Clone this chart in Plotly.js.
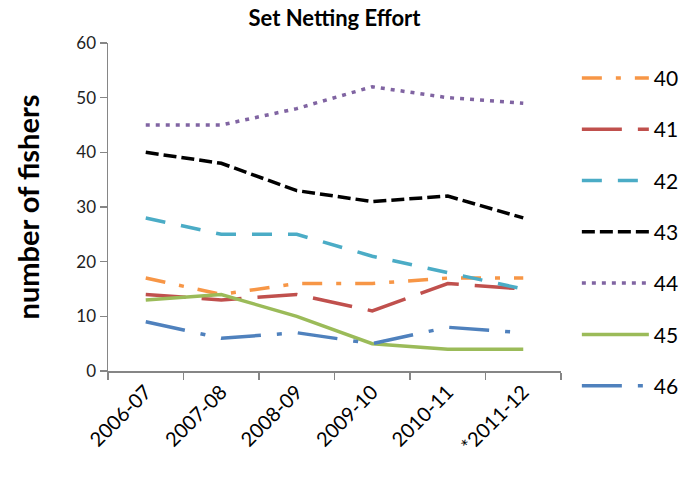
<!DOCTYPE html>
<html>
<head>
<meta charset="utf-8">
<script src="https://cdn.plot.ly/plotly-3.0.1.min.js"></script>
<style>html,body{margin:0;padding:0;background:#fff;}#chart{width:684px;height:479px;}</style>
</head>
<body>
<div id="chart"></div>
<script>
const seasons = ["2006-07", "2007-08", "2008-09", "2009-10", "2010-11", "*2011-12"];
const seriesNames = ["40", "41", "42", "43", "44", "45", "46"];
const s40 = [17, 14, 16, 16, 17, 17];
const s41 = [14, 13, 14, 11, 16, 15];
const s42 = [28, 25, 25, 21, 18, 15];
const s43 = [40, 38, 33, 31, 32, 28];
const s44 = [45, 45, 48, 52, 50, 49];
const s45 = [13, 14, 10, 5, 4, 4];
const s46 = [9, 6, 7, 5, 8, 7];
const yTicks = [0, 10, 20, 30, 40, 50, 60];

const values = [s40, s41, s42, s43, s44, s45, s46];
const colors = ["#F79646", "#C0504D", "#4BACC6", "#000000", "#8064A2", "#9BBB59", "#4F81BD"];
const dashes = ["20px,14px,5px,14px", "40px,16px", "20px,16px", "13px,5px", "4px,6px", "solid", "40px,16px,5px,16px"];

const traces = values.map((v, i) => ({
  type: "scatter",
  mode: "lines",
  x: seasons,
  y: v,
  name: seriesNames[i],
  legendgroup: "g" + i,
  line: {color: colors[i], width: 3.5, dash: dashes[i]},
  hoverinfo: "skip"
}));

const layout = {
  width: 684,
  height: 479,
  margin: {l: 108, r: 123, t: 43, b: 108, autoexpand: false},
  paper_bgcolor: "#ffffff",
  plot_bgcolor: "#ffffff",
  font: {family: "Lato, 'Open Sans', sans-serif", color: "#000"},
  title: {
    text: "<b>Set Netting Effort</b>",
    font: {size: 22, family: "Lato, sans-serif", color: "#000"},
    x: 0.5, xref: "paper", xanchor: "center",
    y: 0.962, yref: "container", yanchor: "middle"
  },
  xaxis: {
    type: "category",
    range: [-0.5, 5.5],
    tickson: "boundaries",
    ticks: "outside",
    ticklen: 7,
    tickcolor: "#868686",
    tickwidth: 1.5,
    showline: true,
    linecolor: "#868686",
    linewidth: 1.5,
    showgrid: false,
    zeroline: false,
    tickangle: -45,
    tickfont: {size: 20, color: "#000"},
    automargin: false,
    fixedrange: true
  },
  yaxis: {
    range: [0, 60],
    tickvals: yTicks,
    ticktext: yTicks.map(String),
    ticks: "outside",
    ticklen: 7,
    tickcolor: "#868686",
    tickwidth: 1.5,
    showline: true,
    linecolor: "#868686",
    linewidth: 1.5,
    showgrid: false,
    zeroline: false,
    tickfont: {size: 17, color: "#222"},
    title: {text: "<b>number of fishers</b>", font: {size: 29, color: "#000"}, standoff: 28},
    automargin: false,
    fixedrange: true
  },
  showlegend: true,
  legend: {
    x: 1.035, xanchor: "left",
    y: 0.955, yanchor: "top",
    font: {size: 21, color: "#000"},
    itemwidth: 67,
    tracegroupgap: 21,
    maxheight: 479,
    bgcolor: "rgba(0,0,0,0)"
  }
};

Plotly.newPlot("chart", traces, layout, {displayModeBar: false, staticPlot: true});
</script>
</body>
</html>
